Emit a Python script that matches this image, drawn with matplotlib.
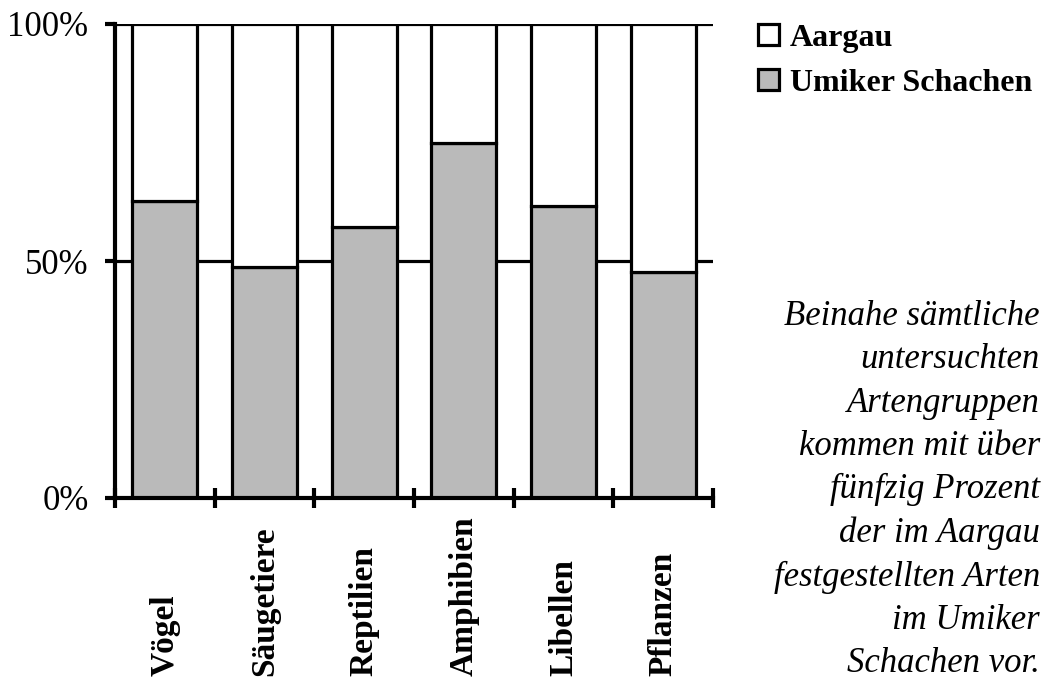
import numpy as np
import matplotlib.pyplot as plt
from matplotlib.patches import Patch
from matplotlib.transforms import blended_transform_factory

# data (share in percent)
categories = ["Vögel", "Säugetiere", "Reptilien", "Amphibien", "Libellen", "Pflanzen"]
umiker = [62.7, 48.7, 57.2, 74.9, 61.6, 47.7]  # Umiker Schachen
aargau = [100 - v for v in umiker]  # rest up to 100% (Aargau)
ytick_vals = [0, 50, 100]
ytick_labels = ["0%", "50%", "100%"]
legend_labels = ["Aargau", "Umiker Schachen"]
note = ("Beinahe sämtliche\nuntersuchten\nArtengruppen\nkommen mit über\n"
        "fünfzig Prozent\nder im Aargau\nfestgestellten Arten\nim Umiker\nSchachen vor.")

plt.rcParams['font.family'] = ['Liberation Serif', 'DejaVu Serif']
GRAY = '#bababa'
LW = 2.3

fig = plt.figure(figsize=(10.51, 6.82), dpi=100)
ax = fig.add_axes([115 / 1051, 1 - 498 / 682, 598 / 1051, 474 / 682])

x = np.arange(len(categories))
ax.bar(x, umiker, width=0.65, color=GRAY, edgecolor='black', linewidth=LW, zorder=3)
ax.bar(x, aargau, width=0.65, bottom=umiker, color='white', edgecolor='black', linewidth=LW, zorder=3)

# horizontal grid lines at 50% and 100%
for yv in ytick_vals[1:]:
  ax.axhline(yv, color='black', linewidth=LW, zorder=1)

ax.set_xlim(-0.5, len(categories) - 0.5)
ax.set_ylim(0, 100)
for side in ['top', 'right']:
  ax.spines[side].set_visible(False)
for side in ['left', 'bottom']:
  ax.spines[side].set_linewidth(3)
  ax.spines[side].set_zorder(4)

ax.set_yticks(ytick_vals)
ax.set_yticklabels(ytick_labels, fontsize=25)
ax.tick_params(axis='y', direction='out', length=7, width=3, pad=12)
ax.set_xticks(np.arange(-0.5, len(categories), 1.0))
ax.set_xticklabels([])
ax.tick_params(axis='x', direction='inout', length=14, width=3)

# category names, rotated, aligned at their bottom end
trans = blended_transform_factory(ax.transData, fig.transFigure)
for xi, name in zip(x, categories):
  ax.text(xi, 1 - 676 / 682, name, transform=trans, rotation=90, ha='center', va='bottom',
          fontsize=24, fontweight='bold', clip_on=False)

handles = [Patch(facecolor='white', edgecolor='black', linewidth=LW),
           Patch(facecolor=GRAY, edgecolor='black', linewidth=LW)]
fig.legend(handles, legend_labels, loc='upper left', bbox_to_anchor=(745 / 1051, 1 - 11 / 682),
           frameon=False, prop={'size': 23, 'weight': 'bold'}, handlelength=0.65, handleheight=0.65,
           handletextpad=0.35, labelspacing=0.5, borderaxespad=0)

fig.text(1040 / 1051, 1 - 300 / 682, note, ha='right', va='top', multialignment='right',
         fontsize=25, style='italic', linespacing=1.41)

fig.savefig("out.png", dpi=100)
